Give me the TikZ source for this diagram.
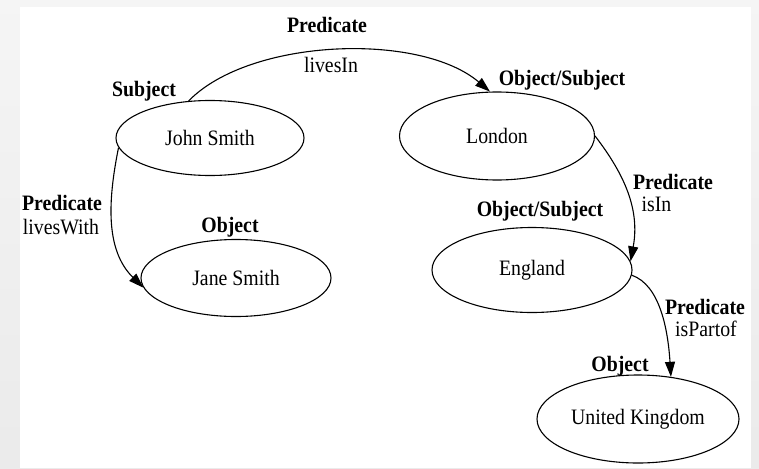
\documentclass[tikz,border=0pt]{standalone}
\usepackage{fontspec}
\setmainfont{Liberation Serif}[FakeStretch=0.9]
\usetikzlibrary{shapes.geometric,arrows.meta}
\begin{document}
\begin{tikzpicture}[x=1pt,y=-1pt,
  every node/.style={font=\fontsize{22}{24}\selectfont},
  resource/.style={draw, ellipse, line width=1.1pt, inner sep=0pt},
  role/.style={anchor=base, font=\fontsize{22}{24}\selectfont\bfseries},
  prop/.style={anchor=base},
  link/.style={line width=1.1pt, -{Triangle[length=15pt,width=10pt]}}]
  % canvas
  \useasboundingbox (0,0) rectangle (759,468);
  \shade[top color=gray!8, bottom color=gray!16] (0,0) rectangle (759,468);
  \fill[white] (20,7) rectangle (751,468);

  % resources
  \node[resource, minimum width=188pt, minimum height=75pt] (john) at (210,138) {John Smith};
  \node[resource, minimum width=195pt, minimum height=88pt] (london) at (497,136) {London};
  \node[resource, minimum width=190pt, minimum height=77pt] (jane) at (236,278) {Jane Smith};
  \node[resource, minimum width=200pt, minimum height=85pt] (england) at (532,270) {England};
  \node[resource, minimum width=202pt, minimum height=88pt] (uk) at (638,419) {United Kingdom};

  % role labels
  \node[role] (p1) at (327,33) {Predicate};
  \node[prop] (l1) at (331,73) {livesIn};
  \node[role] (s1) at (144,97) {Subject};
  \node[role] (os1) at (562,86) {Object/Subject};
  \node[role] (p2) at (62,210) {Predicate};
  \node[prop] (l2) at (61,234) {livesWith};
  \node[role] (o1) at (230,232) {Object};
  \node[role] (p3) at (673,189) {Predicate};
  \node[prop, anchor=base west] (l3) at (638,211) {isIn};
  \node[role] (os2) at (540,216) {Object/Subject};
  \node[role] (p4) at (705,314) {Predicate};
  \node[prop] (l4) at (706,336) {isPartof};
  \node[role] (o2) at (620,371) {Object};

  % statements
  \draw[link] (john.120) .. controls (250,38) and (420,32) .. (london.99);
  \draw[link] (john.186) .. controls (108,200) and (105,250) .. (jane.186);
  \draw[link] (london.east) .. controls (625,175) and (640,210) .. (england.5);
  \draw[link] (england.-3) .. controls (660,285) and (668,330) .. (uk.52);
\end{tikzpicture}
\end{document}
